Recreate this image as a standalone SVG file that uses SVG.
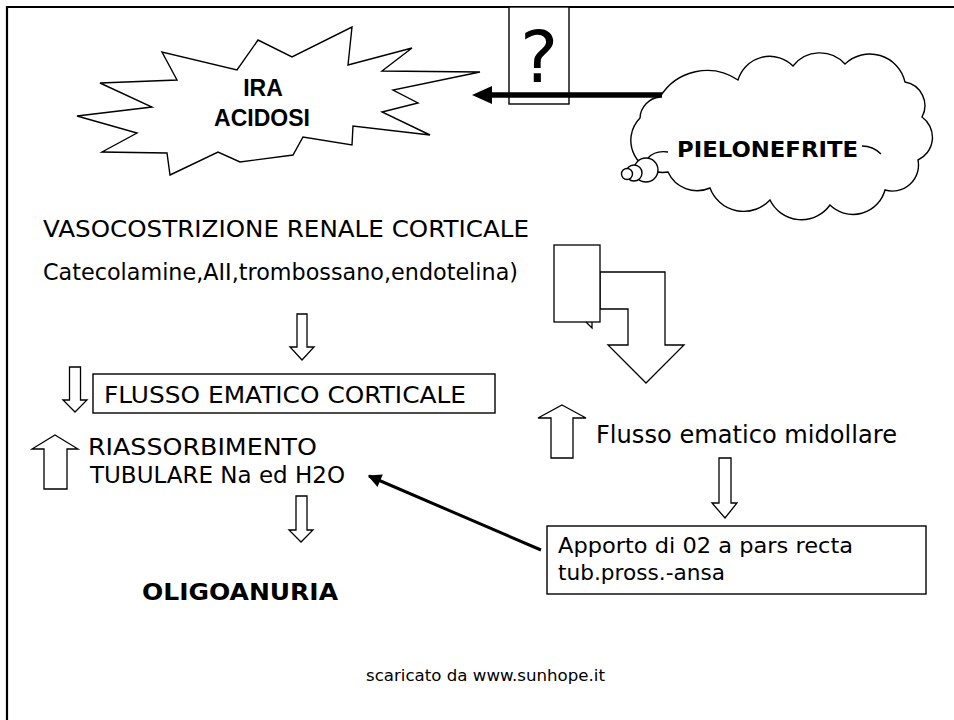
<svg xmlns="http://www.w3.org/2000/svg" width="954" height="720" viewBox="0 0 954 720">
<style>
.t{font-family:"DejaVu Sans",sans-serif;font-size:23px;fill:#000}
.tb{font-family:"DejaVu Sans",sans-serif;font-size:23px;font-weight:bold;fill:#000}
.a{font-family:"Liberation Sans",Arial,sans-serif;font-size:23px;font-weight:bold;fill:#000;text-anchor:middle}
.ln{fill:#fff;stroke:#000;stroke-width:1.4}
.hol{fill:#fff;stroke:#000;stroke-width:1.3;stroke-linejoin:miter}
.nofill{fill:none;stroke:#000;stroke-width:1.3}
</style>
<defs>
<marker id="ah" viewBox="0 0 10 10" refX="9" refY="5" markerWidth="5.5" markerHeight="4.5" orient="auto" markerUnits="strokeWidth">
<path d="M0,0 L10,5 L0,10 Z" fill="#000"/>
</marker>
</defs>
<rect x="0" y="0" width="954" height="720" fill="#fff"/>
<path d="M7,720 V7 H954" fill="none" stroke="#000" stroke-width="2.2"/>

<g id="node-ira">
<polygon class="ln" points="170,175 218,152 240,162 293,155 303,137 352,145 353,126 430,135 382,112 418,103 393,90 480,72 382,71 412,48 348,65 352,27 292,57 258,40 237,70 162,52 177,80 100,83 152,107 77,116 137,133 102,152 167,153"/>
<text class="a" x="263" y="96">IRA</text>
<text class="a" x="262" y="126">ACIDOSI</text>
</g>

<g id="node-question">
<rect class="ln" x="509" y="7" width="60" height="97"/>
<text class="t" x="539" y="82" text-anchor="middle" style="font-size:72px">?</text>
</g>

<g id="node-pielonefrite">
<path class="ln" d="M660,97 A55,55 0 0 1 738,80 A33,33 0 0 1 793,66 A34,34 0 0 1 845,64 A36,36 0 0 1 905,82 A24,24 0 0 1 922,117 A25,25 0 0 1 918,160 A26,26 0 0 1 885,190 A33,33 0 0 1 830,205 A35,35 0 0 1 770,200 A36,36 0 0 1 710,188 A32,32 0 0 1 668,172 A32,32 0 0 1 640,118 A22,22 0 0 1 660,97 Z"/>
<path class="nofill" d="M648,158 Q655,150 668,152"/>
<path class="nofill" d="M862,146 Q873,146 881,154"/>
<circle class="ln" cx="646" cy="170" r="12"/>
<circle class="ln" cx="634" cy="173" r="8"/>
<circle class="ln" cx="627" cy="174" r="5.5"/>
<text class="tb" x="677" y="157" textLength="181" lengthAdjust="spacingAndGlyphs" style="font-size:22px">PIELONEFRITE</text>
</g>

<g id="node-vasocostrizione">
<text class="t" x="43" y="237" textLength="486" lengthAdjust="spacingAndGlyphs">VASOCOSTRIZIONE RENALE CORTICALE</text>
</g>
<g id="node-catecolamine">
<text class="t" x="43" y="280" textLength="475" lengthAdjust="spacingAndGlyphs">Catecolamine,AII,trombossano,endotelina)</text>
</g>

<g id="node-flusso-corticale">
<rect class="ln" x="93" y="374" width="402" height="39"/>
<text class="t" x="104" y="403" textLength="362" lengthAdjust="spacingAndGlyphs">FLUSSO EMATICO CORTICALE</text>
</g>

<g id="node-riassorbimento">
<text class="t" x="88" y="455" textLength="229" lengthAdjust="spacingAndGlyphs">RIASSORBIMENTO</text>
<text class="t" x="90" y="483" textLength="255" lengthAdjust="spacingAndGlyphs">TUBULARE Na ed H2O</text>
</g>

<g id="node-oligoanuria">
<text class="tb" x="142" y="600" textLength="196" lengthAdjust="spacingAndGlyphs">OLIGOANURIA</text>
</g>

<g id="node-flusso-midollare">
<text class="t" x="596" y="443" textLength="301" lengthAdjust="spacingAndGlyphs" style="font-size:24px">Flusso ematico midollare</text>
</g>

<g id="node-apporto">
<rect class="ln" x="547" y="526" width="379" height="68"/>
<text class="t" x="558" y="553" textLength="295" lengthAdjust="spacingAndGlyphs" style="font-size:22px">Apporto di 02 a pars recta</text>
<text class="t" x="558" y="580" textLength="167" lengthAdjust="spacingAndGlyphs" style="font-size:22px">tub.pross.-ansa</text>
</g>

<g id="connectors">
<line x1="662" y1="95" x2="490" y2="95" stroke="#000" stroke-width="5.5"/>
<polygon points="472,95 492,86 492,104" fill="#000"/>
<path class="hol" d="M297,314 H307 V347 H314 L302,360 L290,347 H297 Z"/>
<path class="hol" d="M69.5,367 H80.5 V400 H87 L75,412 L63,400 H69.5 Z"/>
<path class="hol" d="M55,435 L78,449 H67 V489 H44 V449 H32 Z"/>
<path class="hol" d="M296,496 H307 V530 H313 L301,542 L289,530 H296 Z"/>
<path class="hol" d="M562,405 L586,418 H573 V458 H551 V418 H538 Z"/>
<path class="hol" d="M719,458 H731 V503 H737 L725,518 L712,503 H719 Z"/>
<path class="hol" d="M600,272 H665 V345 H684 L646,383 L608,345 H628 V309 H600 Z"/>
<rect class="hol" x="554" y="245" width="46" height="77"/>
<path class="nofill" d="M586,322 L592,328 V322"/>
<line x1="541" y1="550" x2="369" y2="476" stroke="#000" stroke-width="3" marker-end="url(#ah)"/>
</g>

<g id="footer">
<text class="t" x="366" y="681" textLength="239" lengthAdjust="spacingAndGlyphs" style="font-size:15px">scaricato da www.sunhope.it</text>
</g>
</svg>
